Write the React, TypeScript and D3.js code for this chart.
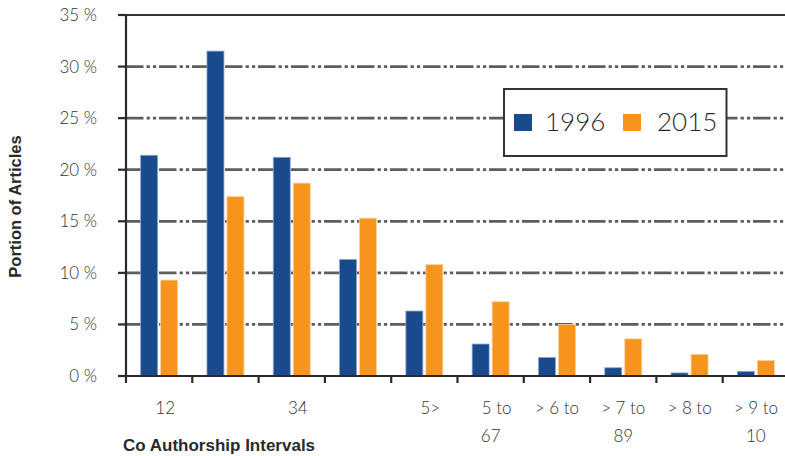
import { useRef, useEffect } from "react";
import * as d3 from "d3";

const categories = ["c1", "c2", "c3", "c4", "c5", "c6", "c7", "c8", "c9", "c10"];
const tickLabels = [["12"], [], ["34"], [], ["5>"], ["5 to", "67"], ["> 6 to"], ["> 7 to", "89"], ["> 8 to"], ["> 9 to", "10"]];
const seriesNames = ["1996", "2015"];
const values1996 = [21.4, 31.5, 21.2, 11.3, 6.3, 3.1, 1.8, 0.8, 0.3, 0.45];
const values2015 = [9.3, 17.4, 18.7, 15.3, 10.8, 7.2, 5.0, 3.6, 2.1, 1.5];
const yTicks = [0, 5, 10, 15, 20, 25, 30, 35];

const colors = ["#1a4a8e", "#f7941d"];
const edges = ["#8fa6cc", "#fcd0a0"];

export default function App() {
  const svgRef = useRef<SVGSVGElement>(null);

  useEffect(() => {
    const svg = d3.select(svgRef.current);
    svg.selectAll("*").remove();

    const width = 785;
    const height = 456;
    const left = 126;
    const step = 66.3;

    svg.attr("width", width).attr("height", height);

    // Escalas
    const x0 = d3
      .scaleBand()
      .domain(categories)
      .range([left, left + step * categories.length])
      .padding(0);

    const inner = (step - 37) / 2;
    const x1 = d3
      .scaleBand()
      .domain(seriesNames)
      .range([inner, inner + 37])
      .paddingInner(0.15);

    const y = d3.scaleLinear().domain([0, 35]).range([376, 15]);

    // Cuadrícula
    svg
      .append("g")
      .selectAll("line")
      .data(yTicks.filter((t) => t > 0 && t < 35))
      .join("line")
      .attr("x1", left)
      .attr("x2", width)
      .attr("y1", (d) => y(d))
      .attr("y2", (d) => y(d))
      .attr("stroke", "#5e5e5e")
      .attr("stroke-width", 2.7)
      .attr("stroke-dasharray", "17.5,3.1,3.3,3,3.3,2.8");

    // Borde superior
    svg
      .append("line")
      .attr("x1", 118)
      .attr("x2", width)
      .attr("y1", y(35))
      .attr("y2", y(35))
      .attr("stroke", "#333")
      .attr("stroke-width", 2.2);

    // Barras
    const allValues = [values1996, values2015];
    allValues.forEach((vals, si) => {
      svg
        .append("g")
        .selectAll("rect")
        .data(vals)
        .join("rect")
        .attr("x", (_, i) => (x0(categories[i]) ?? 0) + (x1(seriesNames[si]) ?? 0))
        .attr("y", (d) => y(d))
        .attr("width", x1.bandwidth())
        .attr("height", (d) => y(0) - y(d))
        .attr("fill", colors[si])
        .attr("stroke", edges[si])
        .attr("stroke-width", 0.8);
    });

    // Eje Y
    const yAxis = svg.append("g");
    yAxis
      .append("line")
      .attr("x1", left)
      .attr("x2", left)
      .attr("y1", y(35))
      .attr("y2", y(0) + 7)
      .attr("stroke", "#2a2a2a")
      .attr("stroke-width", 2.2);
    yAxis
      .selectAll("line.tick")
      .data(yTicks)
      .join("line")
      .attr("class", "tick")
      .attr("x1", 118)
      .attr("x2", left)
      .attr("y1", (d) => y(d))
      .attr("y2", (d) => y(d))
      .attr("stroke", "#2a2a2a")
      .attr("stroke-width", 2.2);
    yAxis
      .selectAll("text")
      .data(yTicks)
      .join("text")
      .attr("x", 97)
      .attr("y", (d) => y(d))
      .attr("dy", "0.35em")
      .attr("text-anchor", "end")
      .attr("font-family", "Lato, sans-serif")
      .attr("font-weight", 300)
      .attr("font-size", 17)
      .attr("fill", "#333")
      .text((d) => `${d} %`);

    // Eje X
    const xAxis = svg.append("g");
    xAxis
      .append("line")
      .attr("x1", 118)
      .attr("x2", width)
      .attr("y1", y(0))
      .attr("y2", y(0))
      .attr("stroke", "#2a2a2a")
      .attr("stroke-width", 2.2);
    xAxis
      .selectAll("line.tick")
      .data(categories)
      .join("line")
      .attr("class", "tick")
      .attr("x1", (d) => (x0(d) ?? 0) + step)
      .attr("x2", (d) => (x0(d) ?? 0) + step)
      .attr("y1", y(0))
      .attr("y2", y(0) + 7)
      .attr("stroke", "#2a2a2a")
      .attr("stroke-width", 2.2);

    categories.forEach((c, i) => {
      tickLabels[i].forEach((line, li) => {
        xAxis
          .append("text")
          .attr("x", (x0(c) ?? 0) + x0.bandwidth() / 2 + (li === 0 && i < 6 ? 6 : 0))
          .attr("y", 413.5 + li * 28.5)
          .attr("text-anchor", "middle")
          .attr("font-family", "Lato, sans-serif")
          .attr("font-weight", 300)
          .attr("font-size", 17)
          .attr("fill", "#333")
          .text(line);
      });
    });

    // Títulos de ejes
    svg
      .append("text")
      .attr("x", 123)
      .attr("y", 451)
      .attr("font-family", "Liberation Sans, Arial, sans-serif")
      .attr("font-weight", "bold")
      .attr("font-size", 17)
      .attr("fill", "#2a2a2a")
      .text("Co Authorship Intervals");

    svg
      .append("text")
      .attr("transform", "translate(20.5,206.5) rotate(-90)")
      .attr("text-anchor", "middle")
      .attr("font-family", "Liberation Sans, Arial, sans-serif")
      .attr("font-weight", "bold")
      .attr("font-size", 16.5)
      .attr("fill", "#2a2a2a")
      .text("Portion of Articles");

    // Leyenda
    const legend = svg.append("g");
    legend
      .append("rect")
      .attr("x", 504)
      .attr("y", 89)
      .attr("width", 222.5)
      .attr("height", 67)
      .attr("fill", "#fff")
      .attr("stroke", "#333")
      .attr("stroke-width", 2);
    const legendX = [514, 623];
    const textX = [545, 657];
    seriesNames.forEach((name, i) => {
      legend
        .append("rect")
        .attr("x", legendX[i])
        .attr("y", 114)
        .attr("width", 18)
        .attr("height", 17)
        .attr("fill", colors[i]);
      legend
        .append("text")
        .attr("x", textX[i])
        .attr("y", 131)
        .attr("font-family", "Lato, sans-serif")
        .attr("font-weight", 300)
        .attr("font-size", 26)
        .attr("fill", "#2a2a2a")
        .text(name);
    });
  }, []);

  return (
    <svg
      ref={svgRef}
      style={{ position: "absolute", left: 0, top: 0, display: "block" }}
    ></svg>
  );
}
